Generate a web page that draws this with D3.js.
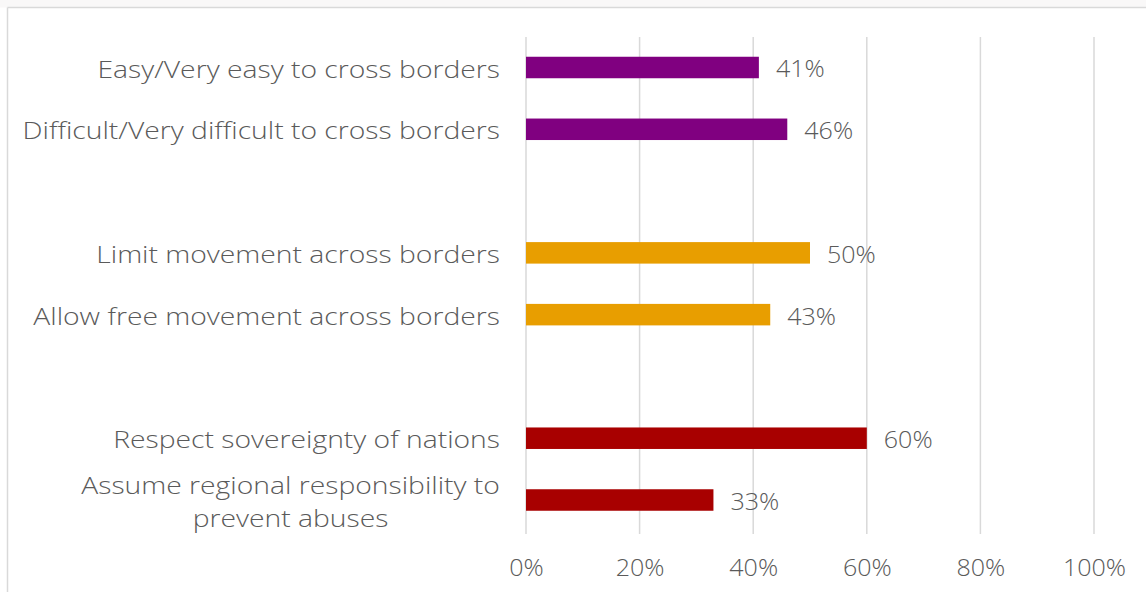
<!DOCTYPE html>
<html>
<head>
<meta charset="utf-8">
<script src="https://cdn.jsdelivr.net/npm/d3@7"></script>
<style>
  html, body { margin: 0; padding: 0; background: #fff; }
  svg { display: block; }
</style>
</head>
<body>
<svg id="chart" width="1146" height="592"></svg>
<script>
// Survey answers, grouped in pairs by question
const categories = [
  "Easy/Very easy to cross borders",
  "Difficult/Very difficult to cross borders",
  "Limit movement across borders",
  "Allow free movement across borders",
  "Respect sovereignty of nations",
  "Assume regional responsibility to\nprevent abuses"
];
const values = [41, 46, 50, 43, 60, 33];
const groups = [0, 0, 1, 1, 2, 2];
const groupColors = ["#800080", "#E89E00", "#A80000"];
const tickValues = [0, 20, 40, 60, 80, 100];

const W = 1146, H = 592;
const svg = d3.select("#chart");
const font = "'Open Sans', Lato, sans-serif";
const fontWeight = 300;
const fontSize = "23px";
const textColor = "#5a5a5a";
// wide geometric lettering: stretch glyphs horizontally
const labelStretch = 1.23;
const numberStretch = 1.09;

// faint strip above the chart frame
svg.append("rect").attr("x", 0).attr("y", 0).attr("width", W).attr("height", 7.5)
  .attr("fill", "#f9f8f8");
// frame
svg.append("line").attr("x1", 7.5).attr("x2", W).attr("y1", 7.5).attr("y2", 7.5)
  .attr("stroke", "#d9d9d9").attr("stroke-width", 1.5);
svg.append("line").attr("x1", 7.5).attr("x2", 7.5).attr("y1", 7.5).attr("y2", H)
  .attr("stroke", "#d9d9d9").attr("stroke-width", 1.5);

// slot layout: each group takes its rows, a blank row separates groups
const slots = [];
categories.forEach((c, i) => {
  if (i > 0 && groups[i] !== groups[i - 1]) slots.push("__gap" + i);
  slots.push(c);
});

const x = d3.scaleLinear().domain([0, 100]).range([526, 1094]);
const y = d3.scalePoint().domain(slots).range([67.5, 500]);
const barH = 21.5;

// vertical gridlines
svg.append("g").selectAll("line").data(tickValues).join("line")
  .attr("x1", d => x(d)).attr("x2", d => x(d))
  .attr("y1", 37).attr("y2", 534)
  .attr("stroke", "#d9d9d9").attr("stroke-width", 1.5);

// x axis labels
const xAxis = d3.axisBottom(x).tickValues(tickValues).tickFormat(d => d + "%").tickSize(0).tickPadding(0);
const gx = svg.append("g").attr("transform", "translate(0,567)").call(xAxis);
gx.select(".domain").remove();
gx.selectAll("text")
  .attr("dy", "0.38em").attr("y", 0)
  .attr("transform", `scale(${numberStretch},1)`)
  .attr("fill", textColor).style("font-family", font).style("font-weight", fontWeight)
  .style("font-size", fontSize);

// bars
svg.append("g").selectAll("rect").data(values).join("rect")
  .attr("x", x(0))
  .attr("y", (d, i) => y(categories[i]) - barH / 2)
  .attr("width", d => x(d) - x(0))
  .attr("height", barH)
  .attr("fill", (d, i) => groupColors[groups[i]]);

// value labels
svg.append("g").selectAll("text").data(values).join("text")
  .attr("transform", (d, i) => `translate(${x(d) + 17},${y(categories[i])}) scale(${numberStretch},1)`)
  .attr("dy", "0.43em")
  .attr("fill", textColor)
  .style("font-family", font).style("font-weight", fontWeight).style("font-size", fontSize)
  .text(d => d + "%");

// category labels: right edge at 500; multi-line labels are centred as a block
const lineH = 33;
const labels = svg.append("g");
categories.forEach((c, i) => {
  const lines = c.split("\n");
  const g = labels.append("g");
  const t = g.append("text")
    .attr("fill", textColor)
    .style("font-family", font).style("font-weight", fontWeight).style("font-size", fontSize);
  const cy = y(c);
  const y0 = -(lines.length - 1) * lineH / 2 + 2;
  lines.forEach((ln, k) => {
    t.append("tspan").attr("x", 0).attr("y", y0 + k * lineH).attr("dy", "0.35em").text(ln);
  });
  const spans = t.selectAll("tspan").nodes();
  const maxW = Math.max(...spans.map(s => s.getComputedTextLength())) * labelStretch;
  if (lines.length === 1) {
    t.attr("text-anchor", "end");
    g.attr("transform", `translate(500,${cy}) scale(${labelStretch},1)`);
  } else {
    t.attr("text-anchor", "middle");
    g.attr("transform", `translate(${500 - maxW / 2},${cy}) scale(${labelStretch},1)`);
  }
});
</script>
</body>
</html>
